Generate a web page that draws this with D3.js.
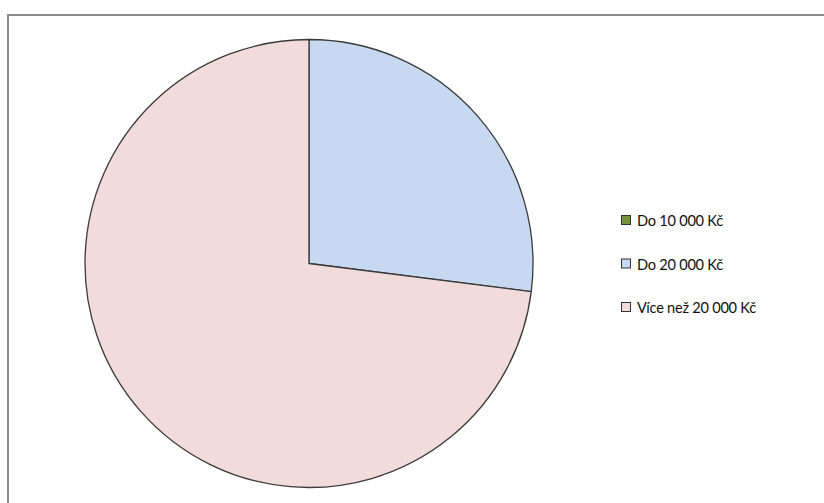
<!DOCTYPE html>
<html>
<head>
<meta charset="utf-8">
<script src="https://cdn.jsdelivr.net/npm/d3@7/dist/d3.min.js"></script>
<style>
  html, body { margin: 0; padding: 0; background: #fff; }
  svg { display: block; }
</style>
</head>
<body>
<svg id="chart" width="824" height="503"></svg>
<script>
// Income bands and their shares
const categories = ["Do 10 000 Kč", "Do 20 000 Kč", "Více než 20 000 Kč"];
const values = [0, 27, 73];
const colors = ["#77933C", "#C6D9F1", "#F2DCDB"];

const svg = d3.select("#chart");
const W = 824, H = 503;

// Outer chart frame (runs past the right and bottom edges)
svg.append("rect")
  .attr("x", 8).attr("y", 15)
  .attr("width", W + 10).attr("height", H + 10)
  .attr("fill", "#fff")
  .attr("stroke", "#8c8c8c")
  .attr("stroke-width", 2);

const cx = 309, cy = 263.5, r = 224;

const data = categories.map((c, i) => ({ name: c, value: values[i], color: colors[i] }));

const pie = d3.pie().value(d => d.value).sort(null);
const arc = d3.arc().innerRadius(0).outerRadius(r);

const g = svg.append("g").attr("transform", `translate(${cx},${cy})`);
g.selectAll("path")
  .data(pie(data).filter(d => d.data.value > 0))
  .join("path")
  .attr("d", arc)
  .attr("fill", d => d.data.color)
  .attr("stroke", "#3a3a3a")
  .attr("stroke-width", 1.3)
  .attr("stroke-linejoin", "round");

// Legend
const legend = svg.append("g").attr("transform", "translate(621,0)");
const rowY = d3.scalePoint().domain(categories).range([220, 307]);
const rows = legend.selectAll("g.row")
  .data(data)
  .join("g")
  .attr("class", "row")
  .attr("transform", d => `translate(0,${rowY(d.name)})`);
rows.append("rect")
  .attr("x", 0.5).attr("y", -4.5)
  .attr("width", 9).attr("height", 9)
  .attr("fill", d => d.color)
  .attr("stroke", "#333")
  .attr("stroke-width", 1);
rows.append("text")
  .attr("x", 16).attr("y", 0.5)
  .attr("dominant-baseline", "central")
  .attr("font-family", "Lato, 'Open Sans', sans-serif")
  .attr("font-size", 14.6)
  .attr("letter-spacing", -0.25)
  .attr("fill", "#111")
  .text(d => d.name);
</script>
</body>
</html>
